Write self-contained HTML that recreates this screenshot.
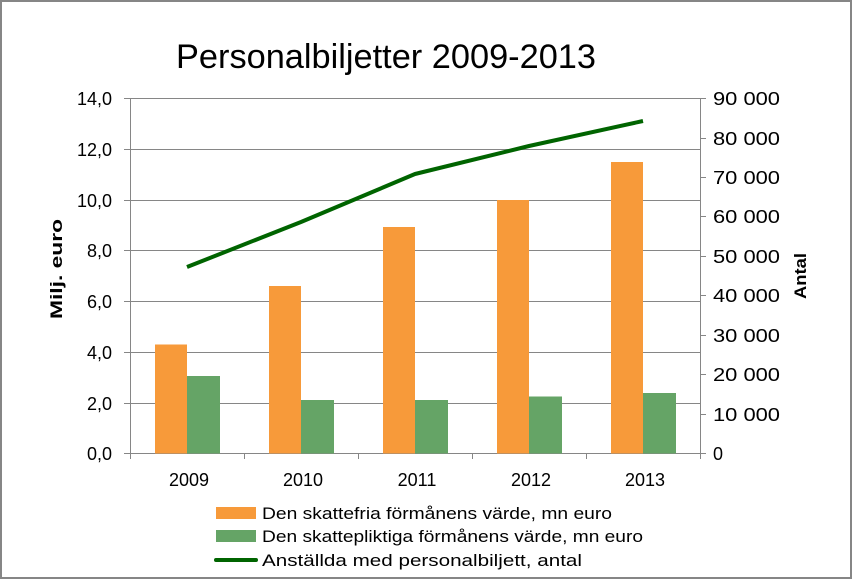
<!DOCTYPE html>
<html><head><meta charset="utf-8"><style>
body{margin:0;background:#fff}
svg text{font-family:"Liberation Sans",Calibri,sans-serif;fill:#000}
</style></head><body>
<svg width="852" height="580" viewBox="0 0 852 580" xmlns="http://www.w3.org/2000/svg">
<rect x="1" y="1" width="850" height="577" fill="#fff" stroke="#868686" stroke-width="2"/>
<text x="386" y="68" font-size="34" text-anchor="middle" textLength="420" lengthAdjust="spacingAndGlyphs">Personalbiljetter 2009-2013</text>
<g stroke="#868686" stroke-width="1">
<line x1="124" y1="98.5" x2="700" y2="98.5"/>
<line x1="124" y1="149.5" x2="700" y2="149.5"/>
<line x1="124" y1="200.5" x2="700" y2="200.5"/>
<line x1="124" y1="250.5" x2="700" y2="250.5"/>
<line x1="124" y1="301.5" x2="700" y2="301.5"/>
<line x1="124" y1="352.5" x2="700" y2="352.5"/>
<line x1="124" y1="403.5" x2="700" y2="403.5"/>
<line x1="124" y1="453.5" x2="706" y2="453.5"/>
<line x1="130.5" y1="98" x2="130.5" y2="459"/>
<line x1="700.5" y1="98" x2="700.5" y2="459"/>
<line x1="700" y1="98.5" x2="706" y2="98.5"/>
<line x1="700" y1="138.5" x2="706" y2="138.5"/>
<line x1="700" y1="177.5" x2="706" y2="177.5"/>
<line x1="700" y1="216.5" x2="706" y2="216.5"/>
<line x1="700" y1="256.5" x2="706" y2="256.5"/>
<line x1="700" y1="295.5" x2="706" y2="295.5"/>
<line x1="700" y1="335.5" x2="706" y2="335.5"/>
<line x1="700" y1="374.5" x2="706" y2="374.5"/>
<line x1="700" y1="414.5" x2="706" y2="414.5"/>
<line x1="244.5" y1="453" x2="244.5" y2="459"/>
<line x1="358.5" y1="453" x2="358.5" y2="459"/>
<line x1="472.5" y1="453" x2="472.5" y2="459"/>
<line x1="586.5" y1="453" x2="586.5" y2="459"/>
</g>
<g font-size="18" text-anchor="end">
<text x="112" y="105">14,0</text><text x="112" y="156">12,0</text><text x="112" y="207">10,0</text>
<text x="112" y="257">8,0</text><text x="112" y="308">6,0</text><text x="112" y="359">4,0</text>
<text x="112" y="410">2,0</text><text x="112" y="460">0,0</text>
</g>
<g font-size="18" text-anchor="start">
<text x="713" y="105" textLength="67" lengthAdjust="spacingAndGlyphs">90 000</text><text x="713" y="145" textLength="67" lengthAdjust="spacingAndGlyphs">80 000</text><text x="713" y="184" textLength="67" lengthAdjust="spacingAndGlyphs">70 000</text>
<text x="713" y="223" textLength="67" lengthAdjust="spacingAndGlyphs">60 000</text><text x="713" y="263" textLength="67" lengthAdjust="spacingAndGlyphs">50 000</text><text x="713" y="302" textLength="67" lengthAdjust="spacingAndGlyphs">40 000</text>
<text x="713" y="342" textLength="67" lengthAdjust="spacingAndGlyphs">30 000</text><text x="713" y="381" textLength="67" lengthAdjust="spacingAndGlyphs">20 000</text><text x="713" y="421" textLength="67" lengthAdjust="spacingAndGlyphs">10 000</text>
<text x="713" y="460">0</text>
</g>
<g fill="#f79a3a">
<rect x="155" y="344.5" width="32" height="109"/>
<rect x="269" y="286" width="32" height="167.5"/>
<rect x="383" y="227" width="32" height="226.5"/>
<rect x="497" y="200" width="32" height="253.5"/>
<rect x="611" y="162" width="32" height="291.5"/>
</g>
<g fill="#65a466">
<rect x="187" y="376" width="33" height="77.5"/>
<rect x="301" y="400" width="33" height="53.5"/>
<rect x="415" y="400" width="33" height="53.5"/>
<rect x="529" y="396.5" width="33" height="57"/>
<rect x="643" y="393" width="33" height="60.5"/>
</g>
<polyline points="187,267 301,222 415,174 529,146 643,121" fill="none" stroke="#006400" stroke-width="4" stroke-linejoin="round"/>
<g font-size="18" text-anchor="middle">
<text x="189" y="486">2009</text><text x="303" y="486">2010</text><text x="417" y="486">2011</text>
<text x="531" y="486">2012</text><text x="645" y="486">2013</text>
</g>
<text transform="translate(62,269) rotate(-90)" font-size="17" font-weight="bold" text-anchor="middle" textLength="100" lengthAdjust="spacingAndGlyphs">Milj. euro</text>
<text transform="translate(806,276) rotate(-90)" font-size="17" font-weight="bold" text-anchor="middle" textLength="46" lengthAdjust="spacingAndGlyphs">Antal</text>
<rect x="216" y="507" width="40" height="12" fill="#f79a3a"/>
<rect x="216" y="530" width="40" height="12" fill="#65a466"/>
<line x1="216" y1="560" x2="256" y2="560" stroke="#006400" stroke-width="4" stroke-linecap="round"/>
<g font-size="17">
<text x="262" y="519" textLength="350" lengthAdjust="spacingAndGlyphs">Den skattefria förmånens värde, mn euro</text>
<text x="262" y="542" textLength="381" lengthAdjust="spacingAndGlyphs">Den skattepliktiga förmånens värde, mn euro</text>
<text x="262" y="566" textLength="320" lengthAdjust="spacingAndGlyphs">Anställda med personalbiljett, antal</text>
</g>
</svg>
</body></html>
